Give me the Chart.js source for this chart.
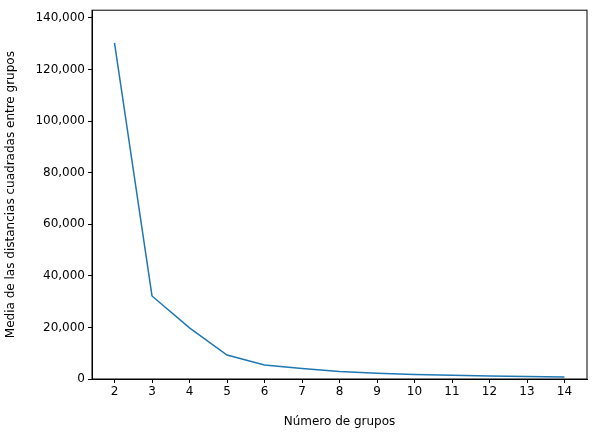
<!DOCTYPE html>
<html><head><script src="https://cdn.jsdelivr.net/npm/chart.js@4"></script>
<style>body{margin:0;background:#fff}#w{width:598px;height:433px}</style></head>
<body><div id="w"><canvas id="c"></canvas></div>
<script>
const groups=[2,3,4,5,6,7,8,9,10,11,12,13,14];
const values=[130300,32200,19800,9300,5400,4100,2900,2200,1700,1500,1200,1000,800];
const yTicks=[0,20000,40000,60000,80000,100000,120000,140000];
const font={family:'DejaVu Sans',size:12};
new Chart(document.getElementById('c'),{
type:'line',
data:{datasets:[{data:groups.map((g,i)=>({x:g,y:values[i]})),borderColor:'#1f77b4',borderWidth:1.5,pointRadius:0,tension:0}]},
options:{responsive:true,maintainAspectRatio:false,animation:false,
layout:{padding:{top:10,right:11,left:0,bottom:0}},
plugins:{legend:{display:false},tooltip:{enabled:false}},
scales:{
x:{type:'linear',min:1.4,max:14.6,
afterBuildTicks:a=>{a.ticks=groups.map(v=>({value:v}));},
afterFit:a=>{a.height=54;},
ticks:{color:'#000',font,autoSkip:false,maxRotation:0,padding:2},
grid:{drawOnChartArea:false,color:'#000',tickLength:4,tickColor:'#000'},
border:{color:'#000',width:1},
title:{display:true,text:'Número de grupos',color:'#000',font,padding:{top:2}}},
y:{min:0,max:143000,
afterBuildTicks:a=>{a.ticks=yTicks.map(v=>({value:v}));},
afterFit:a=>{a.width=92;},
ticks:{color:'#000',font,padding:3},
grid:{drawOnChartArea:false,color:'#000',tickLength:4,tickColor:'#000'},
border:{color:'#000',width:1},
title:{display:true,text:'Media de las distancias cuadradas entre grupos',color:'#000',font,padding:{bottom:2}}}
}},
plugins:[{id:'box',afterDraw(c){const a=c.chartArea,x=c.ctx;x.save();x.strokeStyle='#000';x.lineWidth=1;x.strokeRect(a.left,a.top,a.right-a.left,a.bottom-a.top);x.restore();}}]
});
</script></body></html>
